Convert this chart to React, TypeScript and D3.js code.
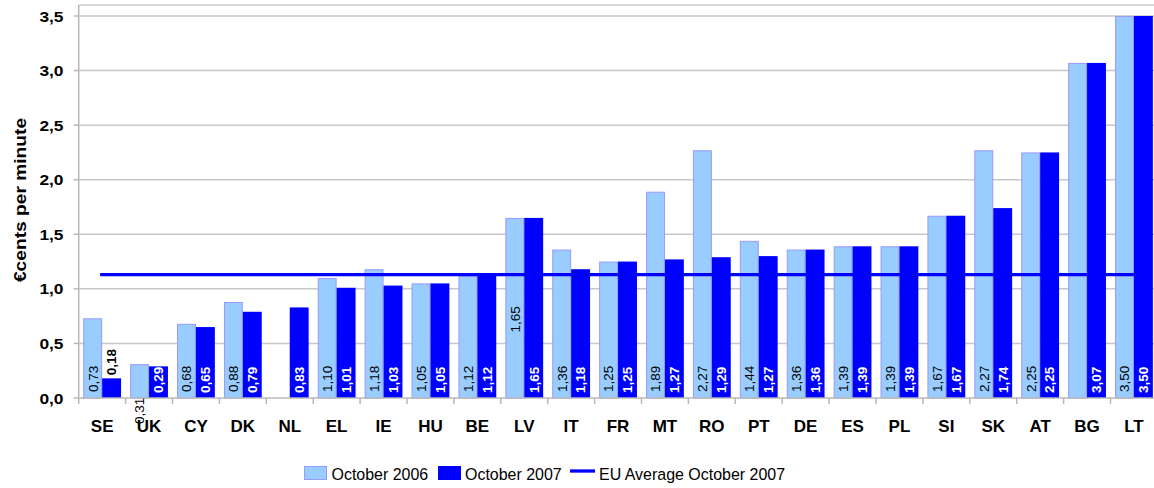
import React from "react";
import * as d3 from "d3";

const countries = ["SE","UK","CY","DK","NL","EL","IE","HU","BE","LV","IT","FR","MT","RO","PT","DE","ES","PL","SI","SK","AT","BG","LT"];
const values2006: (number | null)[] = [0.73,0.31,0.68,0.88,null,1.10,1.18,1.05,1.12,1.65,1.36,1.25,1.89,2.27,1.44,1.36,1.39,1.39,1.67,2.27,2.25,3.07,3.50];
const values2007 = [0.18,0.29,0.65,0.79,0.83,1.01,1.03,1.05,1.12,1.65,1.18,1.25,1.27,1.29,1.30,1.36,1.39,1.39,1.67,1.74,2.25,3.07,3.50];
const labels2006 = ["0,73","0,31","0,68","0,88","","1,10","1,18","1,05","1,12","1,65","1,36","1,25","1,89","2,27","1,44","1,36","1,39","1,39","1,67","2,27","2,25","","3,50"];
const labels2007 = ["0,18","0,29","0,65","0,79","0,83","1,01","1,03","1,05","1,12","1,65","1,18","1,25","1,27","1,29","1,27","1,36","1,39","1,39","1,67","1,74","2,25","3,07","3,50"];
const euAverage2007 = 1.13;
const yTicks = [0, 0.5, 1, 1.5, 2, 2.5, 3, 3.5];
const yTickLabels = ["0,0","0,5","1,0","1,5","2,0","2,5","3,0","3,5"];
const seriesNames = ["October 2006", "October 2007", "EU Average October 2007"];

const W = 1154, H = 488;
const left = 78.7, right = 1157.4, top = 5, zeroY = 398;
const FONT = "'Liberation Sans', Arial, sans-serif";
const LIGHT = "#99CCFF", LIGHT_STROKE = "#9999FF", DARK = "#0000FF";

export default function App() {
  const x = d3.scaleBand<string>().domain(countries).range([left, right]).paddingInner(0.194).paddingOuter(0.097);
  const y = d3.scaleLinear().domain([0, 3.5]).range([zeroY, 16]);
  const bw = x.bandwidth() / 2;
  const step = x.step();

  return (
    <svg width={W} height={H} style={{ position: "absolute", left: 0, top: 0, background: "#fff" }} fontFamily={FONT}>
      {/* plot border top */}
      <line x1={left} x2={right} y1={top} y2={top} stroke="#C8C8C8" strokeWidth={1.5} />
      {/* gridlines */}
      {yTicks.filter(t => t > 0).map(t => (
        <line key={t} x1={left} x2={right} y1={y(t)} y2={y(t)} stroke="#C8C8C8" strokeWidth={1.5} />
      ))}
      {/* y axis */}
      <line x1={left} x2={left} y1={top} y2={zeroY} stroke="#B8B8B8" strokeWidth={1.5} />
      {yTicks.map((t, i) => (
        <g key={t}>
          <line x1={left - 5} x2={left} y1={y(t)} y2={y(t)} stroke="#B8B8B8" strokeWidth={1.5} />
          <text transform={`translate(63.5,${y(t)}) scale(1.12,1)`} dy="0.36em" textAnchor="end" fontWeight="bold" fontSize={15.5} fill="#000">{yTickLabels[i]}</text>
        </g>
      ))}
      <text transform={`translate(25.5,200) rotate(-90) scale(1.2,1)`} textAnchor="middle" fontWeight="bold" fontSize={16} fill="#000">€cents per minute</text>

      {/* bars 2006 */}
      {countries.map((c, i) => {
        const v = values2006[i];
        if (v == null) return null;
        const x0 = x(c)!;
        return <rect key={"a" + c} x={x0 + 0.5} y={y(v) + 0.5} width={bw - 1} height={y(0) - y(v) - 0.5} fill={LIGHT} stroke={LIGHT_STROKE} strokeWidth={1} />;
      })}
      {/* bars 2007 */}
      {countries.map((c, i) => {
        const v = values2007[i];
        const x0 = x(c)! + bw;
        return <rect key={"b" + c} x={x0} y={y(v)} width={bw} height={y(0) - y(v)} fill={DARK} />;
      })}

      {/* EU average line */}
      <line x1={x(countries[0])! + bw - 2} x2={x(countries[countries.length - 1])! + bw} y1={y(euAverage2007)} y2={y(euAverage2007)} stroke={DARK} strokeWidth={3.3} />

      {/* x axis */}
      <line x1={left} x2={right} y1={zeroY} y2={zeroY} stroke="#B8B8B8" strokeWidth={1.5} />
      {countries.map((c, i) => {
        const tx = left + i * step;
        return <line key={"t" + c} x1={tx} x2={tx} y1={zeroY} y2={zeroY + 6} stroke="#B8B8B8" strokeWidth={1.5} />;
      })}

      {/* labels 2006 */}
      {countries.map((c, i) => {
        const lab = labels2006[i];
        if (!lab) return null;
        const cx = x(c)! + bw / 2;
        let sy = zeroY - 6;
        if (c === "UK") sy = zeroY + 26;
        if (c === "LV") sy = y(0.6);
        return <text key={"la" + c} transform={`translate(${cx},${sy}) rotate(-90)`} dy="0.36em" fontSize={13.5} fill="#000">{lab}</text>;
      })}
      {/* x labels */}
      {countries.map(c => (
        <text key={"xl" + c} x={x(c)! + bw} y={432} textAnchor="middle" fontWeight="bold" fontSize={17} fill="#000">{c}</text>
      ))}
      {/* labels 2007 */}
      {countries.map((c, i) => {
        const v = values2007[i];
        const cx = x(c)! + bw * 1.5;
        const short = y(0) - y(v) < 30;
        const sy = short ? y(v) - 3 : zeroY - 5;
        return <text key={"lb" + c} transform={`translate(${cx},${sy}) rotate(-90)`} dy="0.36em" fontSize={13.5} fontWeight="bold" fill={short ? "#000" : "#fff"}>{labels2007[i]}</text>;
      })}

      {/* legend */}
      <rect x={304.5} y={466.5} width={22} height={13} fill={LIGHT} stroke={LIGHT_STROKE} strokeWidth={1} />
      <text transform="translate(331.5,479.5) scale(0.94,1)" fontSize={17} fill="#000">{seriesNames[0]}</text>
      <rect x={438} y={466} width={23} height={14} fill={DARK} />
      <text transform="translate(465,479.5) scale(0.94,1)" fontSize={17} fill="#000">{seriesNames[1]}</text>
      <line x1={570} x2={595} y1={471} y2={471} stroke={DARK} strokeWidth={3.3} />
      <text transform="translate(599,479.5) scale(0.94,1)" fontSize={17} fill="#000">{seriesNames[2]}</text>
    </svg>
  );
}
